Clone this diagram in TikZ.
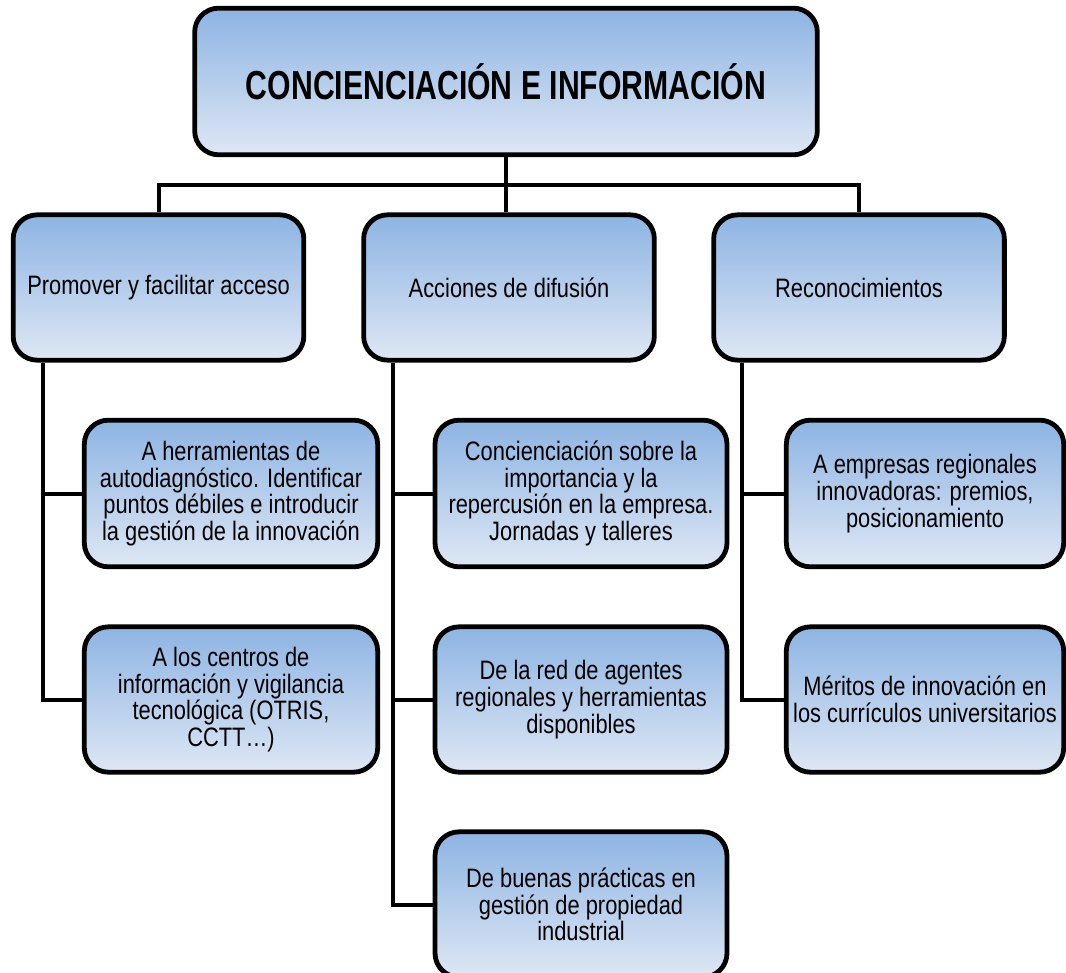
\documentclass[tikz,border=0pt]{standalone}
\usepackage{fontspec}
\setmainfont{Liberation Sans}[FakeStretch=0.82]
\newfontfamily\titlefont{Liberation Sans}[FakeStretch=0.745]
\definecolor{boxtop}{RGB}{141,180,227}
\definecolor{boxbot}{RGB}{222,231,244}
\usetikzlibrary{positioning,calc}

\begin{document}
\begin{tikzpicture}[x=0.75pt, y=-0.75pt,
    cbox/.style={draw=black, line width=3.6pt, rounded corners=18pt,
      top color=boxtop, bottom color=boxbot, align=center, inner sep=2pt,
      font=\fontsize{20}{20}\selectfont},
    topbox/.style={cbox, minimum width=467pt, minimum height=110pt,
      font=\titlefont\fontsize{30.4}{32}\selectfont\bfseries},
    mainbox/.style={cbox, minimum width=218pt, minimum height=109pt},
    subbox/.style={cbox, minimum height=109pt},
    link/.style={draw=black, line width=3pt}]
  \useasboundingbox (0,0) rectangle (1066,973);
  \coordinate (bus) at (506,185);
  \coordinate (tL) at (43,0);
  \coordinate (tM) at (393,0);
  \coordinate (tR) at (742,0);

  % boxes
  \node[topbox] (conc) at (506,81.5) {CONCIENCIACIÓN E INFORMACIÓN};
  \node[mainbox] (promo) at (158.5,287.5) {Promover y facilitar acceso};
  \node[mainbox] (difus) at (509,287.5) {Acciones de difusión};
  \node[mainbox] (recon) at (859,287.5) {Reconocimientos};

  \node[subbox, minimum width=220pt, minimum height=110pt] (promoA) at (231,493.5)
    {A herramientas de\\autodiagnóstico. Identificar\\puntos débiles e introducir\\la gestión de la innovación};
  \node[subbox, minimum width=220pt] (promoB) at (231,699.5)
    {A los centros de\\información y vigilancia\\tecnológica (OTRIS,\\CCTT\ldots)};

  \node[subbox, minimum width=219pt, minimum height=110pt] (difusA) at (581,493.5)
    {Concienciación sobre la\\importancia y la\\repercusión en la empresa.\\Jornadas y talleres};
  \node[subbox, minimum width=219pt] (difusB) at (581,699.5)
    {De la red de agentes\\regionales y herramientas\\disponibles};
  \node[subbox, minimum width=219pt] (difusC) at (581,904.5)
    {De buenas prácticas en\\gestión de propiedad\\industrial};

  \node[subbox, minimum width=208pt, minimum height=110pt] (reconA) at (925,493.5)
    {A empresas regionales\\innovadoras: premios,\\posicionamiento};
  \node[subbox, minimum width=208pt] (reconB) at (925,699.5)
    {Méritos de innovación en\\los currículos universitarios};

  % tree connectors
  \draw[link] (promo.north) |- (bus) -| (recon.north);
  \draw[link] (conc.south) -- (conc.south |- difus.north);
  \draw[link] (promo.south -| tL) |- (promoB.west);
  \draw[link] (promoA.west -| tL) -- (promoA.west);
  \draw[link] (difus.south -| tM) |- (difusC.west);
  \draw[link] (difusA.west -| tM) -- (difusA.west);
  \draw[link] (difusB.west -| tM) -- (difusB.west);
  \draw[link] (recon.south -| tR) |- (reconB.west);
  \draw[link] (reconA.west -| tR) -- (reconA.west);
\end{tikzpicture}
\end{document}
